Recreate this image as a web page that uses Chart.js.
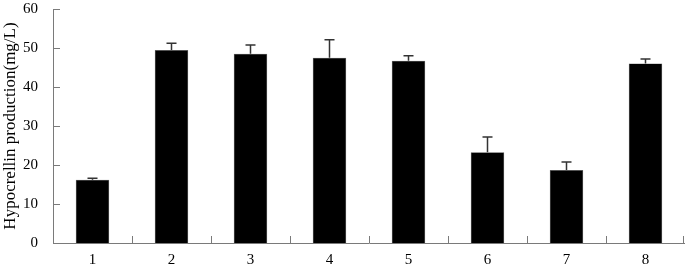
<!DOCTYPE html>
<html>
<head>
<meta charset="utf-8">
<script src="https://cdn.jsdelivr.net/npm/chart.js@4/dist/chart.umd.min.js"></script>
<style>
  html, body { margin: 0; padding: 0; background: #fff; }
  #wrap { width: 685px; height: 269px; }
</style>
</head>
<body>
<div id="wrap"><canvas id="chart"></canvas></div>
<script>
// data
const categories = ['1', '2', '3', '4', '5', '6', '7', '8'];
const production = [16.2, 49.5, 48.5, 47.5, 46.7, 23.3, 18.7, 46.0];
const errors = [0.4, 1.7, 2.3, 4.6, 1.3, 3.9, 2.1, 1.2];
const yMin = 0, yMax = 60, yStep = 10;

const axisColor = '#7a7a7a';

// upward error bars only
const errorBars = {
  id: 'errorBars',
  afterDatasetsDraw(chart) {
    const ctx = chart.ctx;
    const y = chart.scales.y;
    const meta = chart.getDatasetMeta(0);
    ctx.save();
    ctx.strokeStyle = '#333';
    ctx.lineWidth = 1.5;
    meta.data.forEach((bar, i) => {
      const top = y.getPixelForValue(production[i] + errors[i]);
      const base = y.getPixelForValue(production[i]);
      ctx.beginPath();
      ctx.moveTo(bar.x, base);
      ctx.lineTo(bar.x, top);
      ctx.moveTo(bar.x - 5, top);
      ctx.lineTo(bar.x + 5, top);
      ctx.stroke();
    });
    ctx.restore();
  }
};

// tick marks pointing into the plot
const innerTicks = {
  id: 'innerTicks',
  afterDraw(chart) {
    const ctx = chart.ctx;
    const x = chart.scales.x, y = chart.scales.y;
    const area = chart.chartArea;
    ctx.save();
    ctx.strokeStyle = axisColor;
    ctx.lineWidth = 1;
    ctx.beginPath();
    y.ticks.forEach((t, i) => {
      const py = Math.round(y.getPixelForTick(i)) + 0.5;
      ctx.moveTo(area.left, py);
      ctx.lineTo(area.left + 7, py);
    });
    const n = categories.length;
    for (let i = 1; i <= n; i++) {
      let px;
      if (i === n) px = Math.min(area.right, chart.width - 2);
      else px = (x.getPixelForTick(i - 1) + x.getPixelForTick(i)) / 2;
      px = Math.round(px) + 0.5;
      ctx.moveTo(px, area.bottom);
      ctx.lineTo(px, area.bottom - 7);
    }
    ctx.stroke();
    ctx.restore();
  }
};

new Chart(document.getElementById('chart'), {
  type: 'bar',
  data: {
    labels: categories,
    datasets: [{
      data: production,
      backgroundColor: '#000',
      borderColor: '#555',
      borderWidth: 0.5,
      barPercentage: 0.424,
      categoryPercentage: 1.0
    }]
  },
  options: {
    responsive: true,
    maintainAspectRatio: false,
    animation: false,
    layout: { padding: { top: 9, right: 0, left: 0, bottom: 0 } },
    plugins: {
      legend: { display: false },
      tooltip: { enabled: false }
    },
    scales: {
      x: {
        grid: { display: false },
        border: { display: true, color: axisColor, width: 1 },
        ticks: {
          color: '#000',
          padding: 0,
          font: { family: 'Liberation Serif', size: 15 }
        },
        afterFit(scale) {
          scale.height = 26;
          scale.paddingLeft = 0;
          scale.paddingRight = 0;
        }
      },
      y: {
        min: yMin,
        max: yMax,
        grid: { display: false },
        border: { display: true, color: axisColor, width: 1 },
        ticks: {
          stepSize: yStep,
          color: '#000',
          padding: 7,
          font: { family: 'Liberation Serif', size: 15 }
        },
        title: {
          display: true,
          text: 'Hypocrellin production(mg/L)',
          color: '#000',
          padding: 0,
          font: { family: 'Liberation Serif', size: 17 }
        },
        afterFit(scale) {
          scale.width = 53;
          scale.paddingTop = 0;
          scale.paddingBottom = 0;
        }
      }
    }
  },
  plugins: [errorBars, innerTicks]
});
</script>
</body>
</html>
